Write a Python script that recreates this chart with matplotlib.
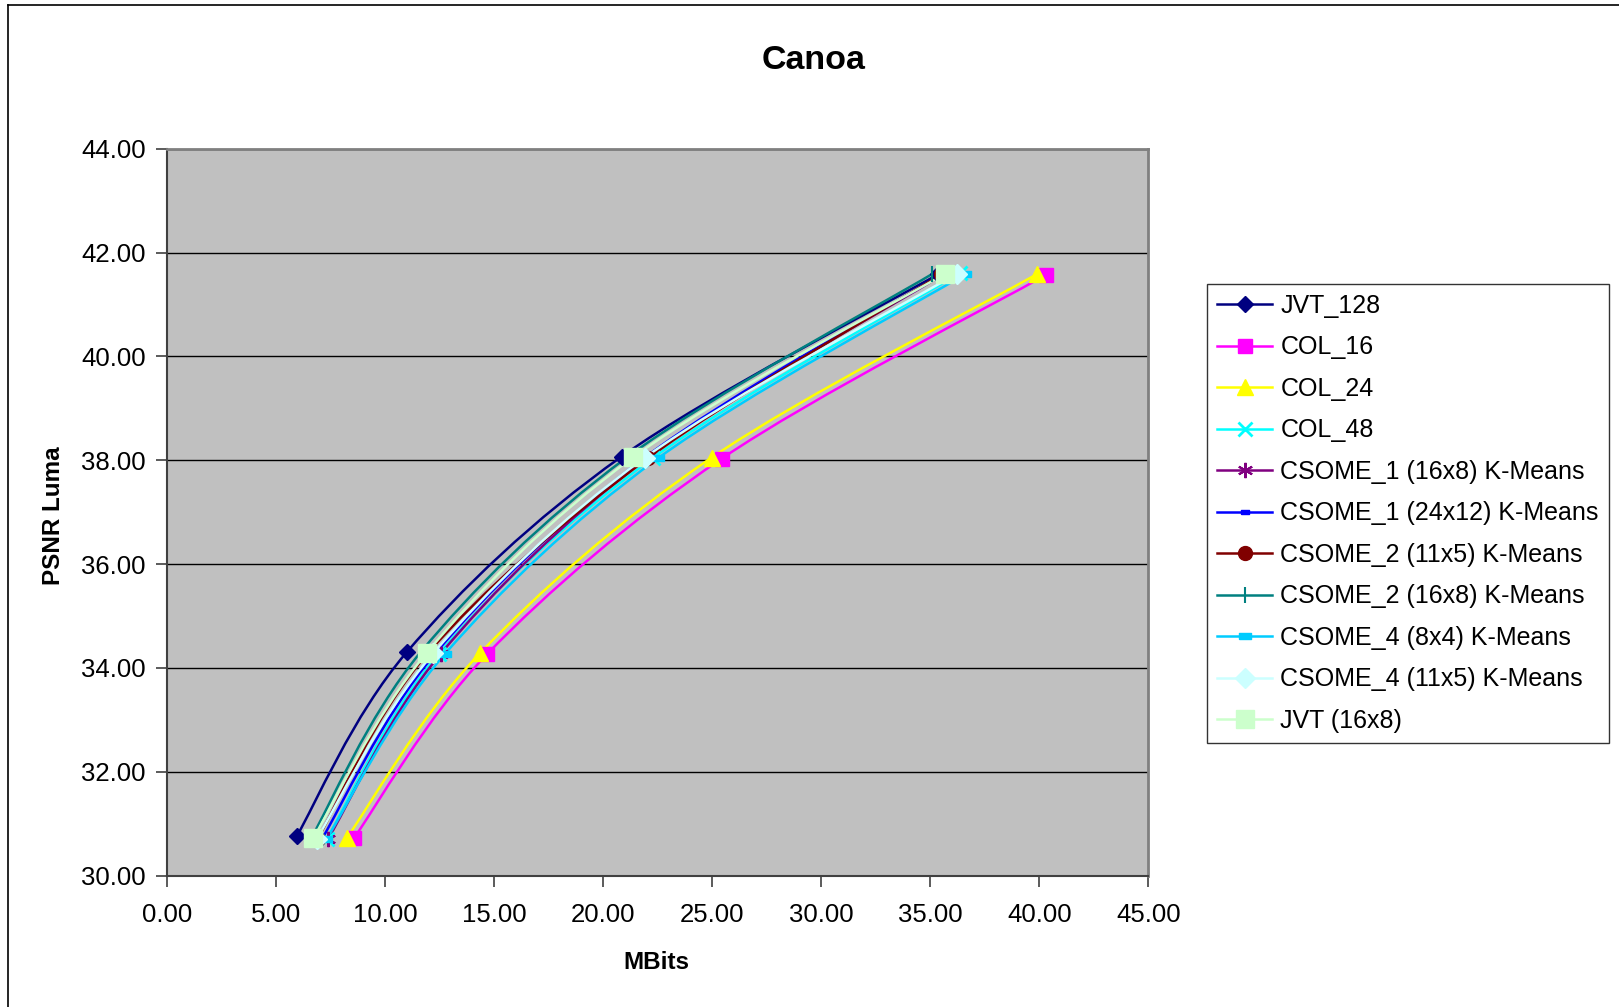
import numpy as np
import matplotlib.pyplot as plt
from matplotlib.path import Path
from matplotlib.patches import PathPatch
from matplotlib.lines import Line2D

plt.rcParams['font.family'] = ['Liberation Sans', 'DejaVu Sans']

# PSNR luma levels (one per QP) and bitrate in MBits for each coder
labels = ["JVT_128", "COL_16", "COL_24", "COL_48",
          "CSOME_1 (16x8) K-Means", "CSOME_1 (24x12) K-Means",
          "CSOME_2 (11x5) K-Means", "CSOME_2 (16x8) K-Means",
          "CSOME_4 (8x4) K-Means", "CSOME_4 (11x5) K-Means", "JVT (16x8)"]

jvt_128_x = [5.94, 10.98, 20.84, 35.35]
jvt_128_y = [30.76, 34.30, 38.07, 41.58]
col_16_x = [8.56, 14.68, 25.43, 40.31]
col_16_y = [30.72, 34.27, 38.03, 41.57]
col_24_x = [8.23, 14.34, 24.97, 39.88]
col_24_y = [30.72, 34.28, 38.05, 41.58]
col_48_x = [7.31, 12.45, 22.30, 36.36]
col_48_y = [30.70, 34.27, 38.05, 41.60]
csome1_16x8_x = [7.37, 12.54, 22.00, 35.60]
csome1_16x8_y = [30.70, 34.27, 38.04, 41.58]
csome1_24x12_x = [7.10, 12.30, 21.90, 35.55]
csome1_24x12_y = [30.71, 34.28, 38.05, 41.58]
csome2_11x5_x = [6.90, 11.95, 22.06, 35.50]
csome2_11x5_y = [30.71, 34.28, 38.04, 41.58]
csome2_16x8_x = [6.60, 11.60, 21.10, 35.10]
csome2_16x8_y = [30.72, 34.29, 38.06, 41.59]
csome4_8x4_x = [7.30, 12.74, 22.52, 36.59]
csome4_8x4_y = [30.70, 34.27, 38.04, 41.58]
csome4_11x5_x = [6.85, 12.20, 21.91, 36.21]
csome4_11x5_y = [30.70, 34.28, 38.05, 41.59]
jvt_16x8_x = [6.70, 11.90, 21.38, 35.67]
jvt_16x8_y = [30.72, 34.29, 38.06, 41.59]

series = [(jvt_128_x, jvt_128_y), (col_16_x, col_16_y), (col_24_x, col_24_y),
          (col_48_x, col_48_y), (csome1_16x8_x, csome1_16x8_y),
          (csome1_24x12_x, csome1_24x12_y), (csome2_11x5_x, csome2_11x5_y),
          (csome2_16x8_x, csome2_16x8_y), (csome4_8x4_x, csome4_8x4_y),
          (csome4_11x5_x, csome4_11x5_y), (jvt_16x8_x, jvt_16x8_y)]

rect = [(-1.6, -0.7), (1.6, -0.7), (1.6, 0.7), (-1.6, 0.7), (-1.6, -0.7)]
styles = [
    dict(color="#000080", marker="D", ms=8),
    dict(color="#FF00FF", marker="s", ms=10),
    dict(color="#FFFF00", marker="^", ms=11),
    dict(color="#00FFFF", marker="x", ms=10, mew=2),
    dict(color="#800080", marker=(6, 2, 0), ms=11, mew=1.5),
    dict(color="#0000FF", marker=rect, ms=6),
    dict(color="#800000", marker="o", ms=10),
    dict(color="#008080", marker="|", ms=12, mew=1.5),
    dict(color="#00CCFF", marker=rect, ms=9),
    dict(color="#CCFFFF", marker="D", ms=10),
    dict(color="#CCFFCC", marker="s", ms=13),
]


def smooth_path(x, y):
    # Catmull-Rom style cubic bezier through the points (Excel smoothed line)
    p = np.column_stack([x, y])
    ext = np.vstack([p[0], p, p[-1]])
    verts = [p[0]]
    codes = [Path.MOVETO]
    for i in range(len(p) - 1):
        p0, p1, p2, p3 = ext[i], ext[i + 1], ext[i + 2], ext[i + 3]
        verts += [p1 + (p2 - p0) / 6.0, p2 - (p3 - p1) / 6.0, p2]
        codes += [Path.CURVE4] * 3
    return Path(verts, codes)


fig = plt.figure(figsize=(16.19, 10.07), dpi=100)
ax = fig.add_axes([0.1033, 0.1305, 0.6059, 0.7218])
ax.set_facecolor("#C0C0C0")

ax.set_xlim(0, 45)
ax.set_ylim(30, 44)
ax.set_xticks(np.arange(0, 46, 5))
ax.set_yticks(np.arange(30, 45, 2))
ax.set_xticklabels([f"{v:.2f}" for v in np.arange(0, 46, 5)])
ax.set_yticklabels([f"{v:.2f}" for v in np.arange(30, 45, 2)])
ax.yaxis.grid(True, color="black", lw=1.0)
ax.set_axisbelow(True)
ax.tick_params(axis="both", labelsize=18.5, length=8, width=1.2, colors="#404040",
               labelcolor="black")
ax.tick_params(axis="x", pad=11.5)
ax.tick_params(axis="y", pad=7.5)
for side in ["top", "right"]:
    ax.spines[side].set_color("#808080")
    ax.spines[side].set_linewidth(2)
for side in ["bottom", "left"]:
    ax.spines[side].set_color("#404040")
    ax.spines[side].set_linewidth(1.5)

handles = []
for (x, y), st, lab in zip(series, styles, labels):
    ax.add_patch(PathPatch(smooth_path(x, y), fill=False, edgecolor=st["color"],
                           lw=1.8, zorder=3))
    ax.plot(x, y, ls="none", marker=st["marker"], ms=st["ms"],
            color=st["color"], mec=st["color"], mew=st.get("mew", 1), zorder=4)
    handles.append(Line2D([], [], color=st["color"], lw=1.8, marker=st["marker"],
                          ms=st["ms"], mec=st["color"], mew=st.get("mew", 1)))

fig.text(0.5025, 0.940, "Canoa", ha="center", va="center", fontsize=24.5,
         fontweight="bold")
fig.text(0.4056, 0.0437, "MBits", ha="center", va="center", fontsize=17.5,
         fontweight="bold")
fig.text(0.0332, 0.4875, "PSNR Luma", ha="center", va="center", fontsize=17.5,
         fontweight="bold", rotation=90)

leg = fig.legend(handles, labels, loc="upper left",
                 bbox_to_anchor=(1207 / 1619, 1 - 284 / 1007), borderaxespad=0,
                 fontsize=18.0, frameon=True, fancybox=False, handlelength=2.2,
                 handletextpad=0.34, borderpad=0.4, labelspacing=0.70)
leg.get_frame().set_edgecolor("black")
leg.get_frame().set_linewidth(1.0)

# chart area border
fig.add_artist(Line2D([8 / 1619, 8 / 1619], [0, 1 - 5 / 1007], color="black",
                      lw=1.2, transform=fig.transFigure))
fig.add_artist(Line2D([8 / 1619, 1], [1 - 5 / 1007, 1 - 5 / 1007], color="black",
                      lw=1.2, transform=fig.transFigure))

fig.savefig("out.png", dpi=100, facecolor="white")
